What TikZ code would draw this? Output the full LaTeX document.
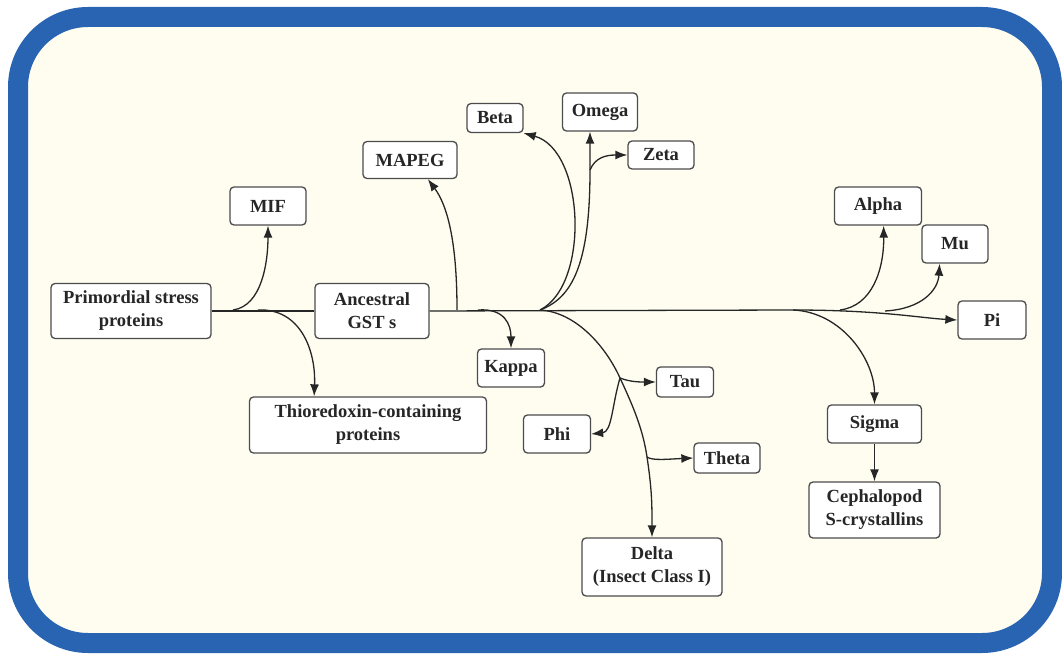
\documentclass[tikz,border=0pt]{standalone}
\usepackage{fontspec}
\setmainfont{Liberation Serif}
\usepackage{xcolor}
\usepackage{tikz}
\usetikzlibrary{arrows.meta,positioning,calc}

\definecolor{frameblue}{RGB}{40,100,178}
\definecolor{cream}{RGB}{254,253,240}

\begin{document}
\begin{tikzpicture}[
    x=1pt, y=-1pt,
    box/.style={rectangle, draw=black!70, fill=white, line width=1.3pt, rounded corners=4pt,
        inner sep=0pt, align=center, text=black!85,
        font=\fontsize{18.5}{23}\selectfont\bfseries},
    arrow/.style={-{Latex[length=12pt,width=9pt]}, line width=1.3pt, black!85},
    link/.style={line width=1.3pt, black!85}
]

% Frame
\useasboundingbox (0,0) rectangle (1062,655);
\draw[line width=20pt, draw=frameblue, fill=cream, rounded corners=70pt] (18,17) rectangle (1052,643);

% Main path
\node[box, minimum width=160pt, minimum height=55pt] (prim) at (131,311) {Primordial stress\\proteins};
\node[box, minimum width=114pt, minimum height=55pt] (anc) at (372,311) {Ancestral\\GST s};
\node[box, minimum width=68pt, minimum height=38pt] (pi) at (992,320) {Pi};

% Upper branches
\node[box, minimum width=76pt, minimum height=38pt] (mif) at (268,206) {MIF};
\node[box, minimum width=94pt, minimum height=37pt] (mapeg) at (410,160) {MAPEG};
\node[box, minimum width=56pt, minimum height=29pt] (beta) at (495,118) {Beta};
\node[box, minimum width=75pt, minimum height=38pt] (omega) at (600,112) {Omega};
\node[box, minimum width=66pt, minimum height=28pt] (zeta) at (661,155) {Zeta};
\node[box, minimum width=87pt, minimum height=38pt] (alpha) at (878,206) {Alpha};
\node[box, minimum width=66pt, minimum height=38pt] (mu) at (955,244) {Mu};

% Lower branches
\node[box, minimum width=237pt, minimum height=56pt] (thio) at (368,425) {Thioredoxin-containing\\proteins};
\node[box, minimum width=67pt, minimum height=38pt] (kappa) at (511,368) {Kappa};
\node[box, minimum width=57pt, minimum height=30pt] (tau) at (685,382) {Tau};
\node[box, minimum width=67pt, minimum height=38pt] (phi) at (557,434) {Phi};
\node[box, minimum width=66pt, minimum height=30pt] (theta) at (727,458) {Theta};
\node[box, minimum width=140pt, minimum height=58pt] (delta) at (652,567) {Delta\\(Insect Class I)};
\node[box, minimum width=94pt, minimum height=38pt] (sigma) at (874.5,424) {Sigma};
\node[box, minimum width=131pt, minimum height=56pt] (ceph) at (874.5,510) {Cephalopod\\S-crystallins};

% Branch points
\coordinate (bmif) at (233,310);
\coordinate (bthio) at (258,310);
\coordinate (bmapeg) at (457,310);
\coordinate (bkappa) at (478,310);
\coordinate (bup) at (540,310);
\coordinate (bdown) at (540,310);
\coordinate (zb) at (590,170);
\coordinate (tb) at (620,378);
\coordinate (thb) at (647,457);
\coordinate (bsig) at (793,310);
\coordinate (bal) at (840,310);
\coordinate (bmu) at (885,311);

% Arrows
\draw[link] (prim.east) -- (anc.west);
\draw[arrow] (anc.east) -- (bsig) .. controls (880,310) and (920,318) .. (pi.west);
\draw[arrow] (bmif) .. controls (262,306) and (268,262) .. (mif.south);
\draw[arrow] (bthio) .. controls (300,308) and (316,350) .. (thio.152);
\draw[arrow] (bmapeg) .. controls (457,240) and (447,205) .. (mapeg.-47);
\draw[arrow] (bkappa) .. controls (505,308) and (511,325) .. (kappa.north);
\draw[arrow] (bup) .. controls (590,285) and (585,150) .. (beta.south east);
\draw[link] (bup) .. controls (572,298) and (590,265) .. (zb);
\draw[arrow] (zb) -- (omega.-117);
\draw[arrow] (zb) .. controls (595,158) and (605,155) .. (zeta.west);
\draw[link] (bdown) .. controls (575,312) and (605,345) .. (tb);
\draw[link] (tb) .. controls (634,408) and (643,430) .. (thb);
\draw[arrow] (thb) .. controls (652,490) and (652,505) .. (delta.north);
\draw[arrow] (tb) .. controls (630,382) and (640,382) .. (tau.west);
\draw[arrow] (tb) .. controls (612,405) and (612,432) .. (phi.east);
\draw[arrow] (thb) .. controls (652,461) and (670,459) .. (theta.west);
\draw[arrow] (bal) .. controls (872,306) and (884,270) .. (alpha.-74);
\draw[arrow] (bmu) .. controls (922,309) and (938,290) .. (mu.-128);
\draw[arrow] (bsig) .. controls (842,312) and (874.5,360) .. (sigma.north);
\draw[arrow] (sigma) -- (ceph);

\end{tikzpicture}
\end{document}
